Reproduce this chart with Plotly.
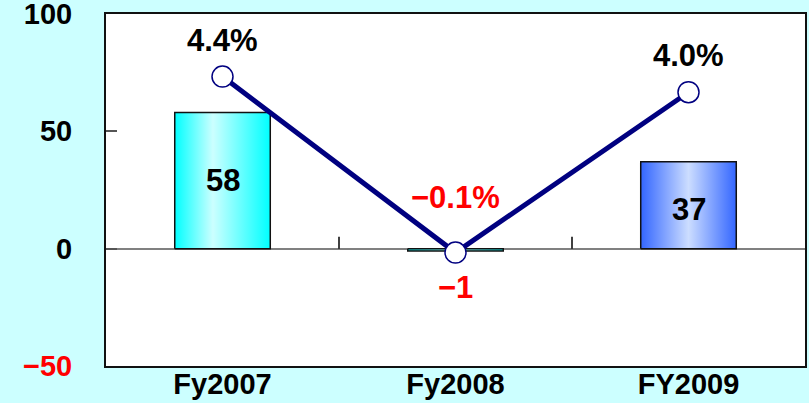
import plotly.graph_objects as go

# ---- data ----
categories = ["Fy2007", "Fy2008", "FY2009"]
bar_values = [58, -1, 37]
growth_pct = [4.4, -0.1, 4.0]
y_tickvals = [-50, 0, 50, 100]
y_ticktext = ["<span style='color:#FF0000'>−50</span>", "0", "50", "100"]

# ---- style ----
BG = "#CCFFFF"
FONT = "Liberation Sans"
BAR_W = 0.41
bar_scales = [
    [[0, "#00FFFF"], [0.4, "#CCFFFF"], [1, "#00FFFF"]],
    [[0, "#00E0E0"], [0.5, "#AAFFFF"], [1, "#00E0E0"]],
    [[0, "#3366FF"], [0.5, "#CCDDFF"], [1, "#3366FF"]],
]
pct_yshift = [36, 55, 37]
bar_label_shift = [0, -36, -4]

fig = go.Figure()

x_idx = list(range(len(categories)))
for i, v in enumerate(bar_values):
    xl, xr = i - BAR_W / 2, i + BAR_W / 2
    fig.add_trace(go.Scatter(
        x=[xl, xl, xr, xr, xl], y=[0, v, v, 0, 0],
        mode="lines", fill="toself",
        fillgradient=dict(type="horizontal", colorscale=bar_scales[i]),
        line=dict(color="#111111", width=1.5),
        hoverinfo="skip", showlegend=False,
    ))

fig.add_trace(go.Scatter(
    x=x_idx, y=growth_pct, yaxis="y2", mode="lines+markers",
    line=dict(color="#000080", width=5),
    marker=dict(size=21, color="white", line=dict(color="#000080", width=1.5)),
    showlegend=False, hoverinfo="skip",
))

annotations = []
for i, v in enumerate(growth_pct):
    annotations.append(dict(
        x=i, y=v, xref="x", yref="y2", yshift=pct_yshift[i],
        text=f"{v:.1f}%".replace("-", "−"), showarrow=False,
        font=dict(family=FONT, size=31, weight="bold",
                  color="#FF0000" if v < 0 else "#000000"),
    ))
for i, v in enumerate(bar_values):
    annotations.append(dict(
        x=i, y=v / 2 if v > 0 else v, xref="x", yref="y", yshift=bar_label_shift[i],
        text=str(v).replace("-", "−"), showarrow=False,
        font=dict(family=FONT, size=31, weight="bold",
                  color="#FF0000" if v < 0 else "#000000"),
    ))

shapes = []
for b in [0.5, 1.5]:
    shapes.append(dict(
        type="line", xref="x", yref="y", x0=b, x1=b,
        ysizemode="pixel", yanchor=0, y0=0, y1=12,
        line=dict(color="#000000", width=1.5),
    ))

tick_font = dict(family=FONT, size=29, weight="bold", color="#000000")

fig.update_layout(
    width=809, height=403,
    paper_bgcolor=BG, plot_bgcolor="white",
    margin=dict(l=106, r=4, t=14, b=37),
    font=dict(family=FONT, size=29, color="#000000"),
    xaxis=dict(
        range=[-0.5, 2.5], tickvals=x_idx, ticktext=categories,
        showgrid=False, zeroline=False, automargin=False,
        showline=True, mirror=True, linecolor="#111111", linewidth=2,
        ticks="", tickfont=tick_font, ticklabelstandoff=-9,
        ticklabeloverflow="allow",
    ),
    yaxis=dict(
        range=[-50, 100], tickvals=y_tickvals, ticktext=y_ticktext,
        showgrid=False, zeroline=True, zerolinecolor="#808080", zerolinewidth=1.5,
        showline=True, mirror=True, linecolor="#111111", linewidth=2,
        ticks="inside", ticklen=11, tickcolor="#555555", tickwidth=1.5,
        ticklabelstandoff=26, automargin=False, ticklabeloverflow="allow",
        tickfont=tick_font,
    ),
    yaxis2=dict(
        range=[-3, 6], overlaying="y", side="right",
        showgrid=False, zeroline=False, showticklabels=False, showline=False, ticks="",
    ),
    annotations=annotations,
    shapes=shapes,
)

fig.write_html(
    "out.html",
    config={"displayModeBar": False},
    post_script="document.body.style.margin='0';document.body.style.padding='0';"
                "document.body.style.background='#CCFFFF';",
)
